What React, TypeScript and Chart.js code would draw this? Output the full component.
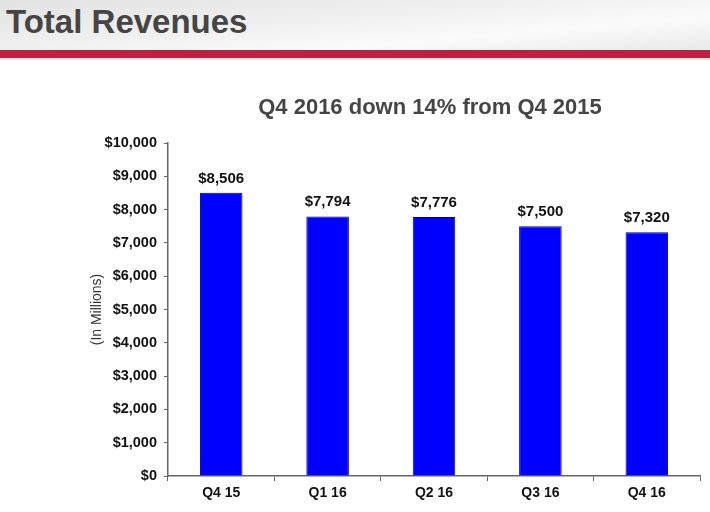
import React, { useEffect, useRef } from "react";
import { Chart, registerables } from "chart.js";

Chart.register(...registerables);

const categories: string[] = ["Q4 15", "Q1 16", "Q2 16", "Q3 16", "Q4 16"];
const revenues: number[] = [8506, 7794, 7776, 7500, 7320];
const revenueLabels: string[] = ["$8,506", "$7,794", "$7,776", "$7,500", "$7,320"];
const yMin = 0;
const yMax = 10000;
const yStep = 1000;
const headerTitle = "Total Revenues";
const chartTitle = "Q4 2016 down 14% from Q4 2015";
const yAxisTitle = "(In Millions)";

const FONT = '"Liberation Sans", Arial, Helvetica, sans-serif';

const textPlugin = {
  id: "textPlugin",
  afterDatasetsDraw(chart: any) {
    const ctx = chart.ctx as CanvasRenderingContext2D;
    const area = chart.chartArea;
    ctx.save();
    // chart title
    ctx.font = `bold 22px ${FONT}`;
    ctx.fillStyle = "#454545";
    ctx.textAlign = "center";
    ctx.textBaseline = "alphabetic";
    ctx.fillText(chartTitle, 430, 114);

    // y-axis title
    ctx.save();
    ctx.translate(101, (area.top + area.bottom) / 2);
    ctx.rotate(-Math.PI / 2);
    ctx.font = `14px ${FONT}`;
    ctx.fillStyle = "#333333";
    ctx.textAlign = "center";
    ctx.textBaseline = "alphabetic";
    ctx.fillText(yAxisTitle, 0, 0);
    ctx.restore();

    // data labels
    const meta = chart.getDatasetMeta(0);
    ctx.font = `bold 15px ${FONT}`;
    ctx.fillStyle = "#111111";
    ctx.textAlign = "center";
    ctx.textBaseline = "alphabetic";
    meta.data.forEach((bar: any, i: number) => {
      ctx.fillText(revenueLabels[i], bar.x, bar.y - 10);
    });
    ctx.restore();
  },
};

export default function App() {
  const canvasRef = useRef<HTMLCanvasElement | null>(null);

  useEffect(() => {
    const canvas = canvasRef.current;
    if (!canvas) return;
    const chart = new Chart(canvas, {
      type: "bar",
      data: {
        labels: categories,
        datasets: [
          {
            data: revenues,
            backgroundColor: "#0000FF",
            borderColor: "#00008a",
            borderWidth: 1,
            barPercentage: 0.4,
            categoryPercentage: 1,
          },
        ],
      },
      options: {
        responsive: false,
        animation: false,
        maintainAspectRatio: false,
        layout: { padding: { top: 143, right: 10, left: 0, bottom: 0 } },
        plugins: {
          legend: { display: false },
          title: { display: false },
          tooltip: { enabled: false },
        },
        scales: {
          x: {
            afterFit: (s: any) => {
              s.height = 36;
            },
            grid: {
              display: true,
              drawOnChartArea: false,
              drawTicks: true,
              tickLength: 5,
              color: "#666666",
              lineWidth: 1,
              offset: true,
            },
            border: { display: true, color: "#666666", width: 1.5 },
            ticks: {
              color: "#111111",
              padding: 4,
              font: { family: FONT, size: 14, weight: "bold" },
            },
          },
          y: {
            min: yMin,
            max: yMax,
            afterFit: (s: any) => {
              s.width = 168;
            },
            grid: {
              display: true,
              drawOnChartArea: false,
              drawTicks: true,
              tickLength: 4,
              color: "#666666",
              lineWidth: 1,
            },
            border: { display: true, color: "#666666", width: 1.5 },
            ticks: {
              stepSize: yStep,
              color: "#111111",
              padding: 7,
              font: { family: FONT, size: 14.5, weight: "bold" },
              callback: (v: any) => "$" + Number(v).toLocaleString("en-US"),
            },
          },
        },
      },
      plugins: [textPlugin],
    });
    return () => chart.destroy();
  }, []);

  return (
    <div
      style={{
        position: "fixed",
        left: 0,
        top: 0,
        width: 710,
        height: 512,
        background: "#ffffff",
        overflow: "hidden",
      }}
    >
      <canvas
        ref={canvasRef}
        width={710}
        height={512}
        style={{ position: "absolute", left: 0, top: 0, width: 710, height: 512 }}
      />
      <div
        style={{
          position: "absolute",
          left: 0,
          top: 0,
          width: 710,
          height: 50,
          background:
            "linear-gradient(175deg, #e2e2e2 0%, #f1f1f1 45%, #fbfbfb 70%, #e9e9e9 100%)",
        }}
      >
        <div
          style={{
            position: "absolute",
            left: 6,
            top: 2,
            fontFamily: FONT,
            fontWeight: "bold",
            fontSize: 33,
            lineHeight: "40px",
            color: "#454545",
            whiteSpace: "nowrap",
          }}
        >
          {headerTitle}
        </div>
      </div>
      <div
        style={{
          position: "absolute",
          left: 0,
          top: 50,
          width: 710,
          height: 8,
          background: "#BA2142",
        }}
      />
      <div
        style={{
          position: "absolute",
          left: 0,
          top: 58,
          width: 710,
          height: 2,
          background: "#f6dde3",
        }}
      />
    </div>
  );
}
